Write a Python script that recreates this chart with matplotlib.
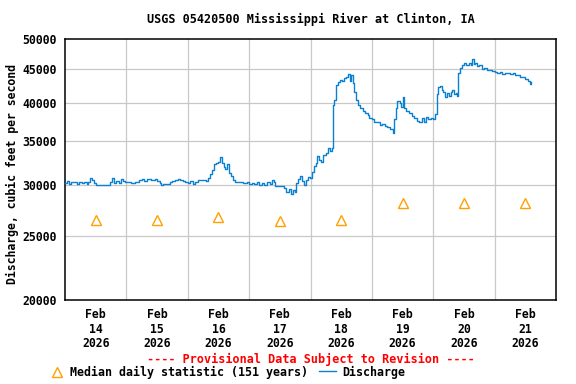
import matplotlib
matplotlib.use("Agg")
import matplotlib.pyplot as plt
from matplotlib.lines import Line2D
from matplotlib.ticker import FixedLocator, FixedFormatter, NullLocator

# ---- data ----
# hours since Feb 14 2026 00:00
hours = [0.0, 0.8, 1.5, 2.3, 3.5, 4.5, 5.5, 6.5, 7.5, 8.5, 9.0, 9.8, 10.5, 11.3, 12.0, 13.0, 15.0, 17.0,
         17.5, 18.5, 19.2, 20.0, 21.0, 21.9, 22.7, 23.5,
         24.5, 26.0, 27.5, 29.0, 30.0, 31.0, 32.0, 33.5, 35.0, 36.0, 37.0, 37.5, 38.5, 40.0, 41.0, 42.0,
         43.0, 44.0, 45.0, 46.0, 47.0,
         48.0, 49.0, 50.0, 51.0, 52.0, 53.5, 55.0, 56.0, 56.8, 57.5, 58.2, 59.0, 60.0, 60.6, 61.2, 62.0,
         62.7, 63.3, 64.3, 65.0, 65.8, 66.5, 68.0, 69.5, 71.0,
         72.0, 73.0, 74.0, 75.0, 76.0, 77.0, 78.0, 79.0, 80.0, 81.0, 81.8, 82.3, 84.0, 85.5, 86.5, 87.5,
         88.3, 89.0, 90.0, 90.5, 91.3, 92.0, 92.7, 93.5, 94.3, 95.0, 95.7,
         96.5, 97.2, 98.0, 98.7, 99.5, 100.3, 101.0, 102.0, 103.0, 103.7, 104.4, 104.8, 105.3, 106.0,
         106.7, 107.5, 108.3, 109.0, 110.0, 110.8, 111.5, 112.0, 112.5, 113.2, 113.8, 114.5, 115.3,
         116.5, 117.5, 118.3, 119.0,
         120.0, 121.0, 122.0, 123.0, 124.0, 125.0, 126.0, 127.0, 127.8, 128.3, 128.7, 129.3, 130.0,
         131.0, 131.5, 132.2, 132.7, 133.5, 134.5, 135.5, 136.5, 137.5, 138.5, 139.5, 140.3, 141.0,
         142.0, 143.0,
         144.0, 144.7, 145.3, 145.8, 146.5, 147.3, 148.0, 148.7, 149.3, 150.0, 150.8, 151.5, 152.2,
         153.0, 153.3, 153.8, 154.5, 155.3, 156.2, 157.0, 157.8, 158.6, 159.2, 159.8, 160.5, 161.3,
         162.0, 163.0, 164.0, 165.0, 166.0, 167.0,
         168.0, 169.0, 170.0, 171.0, 172.0, 173.0, 174.0, 175.0, 176.0, 177.0, 178.0, 179.0, 180.0,
         181.0, 181.7, 182.2]
discharge = [30150, 30350, 30100, 30300, 30250, 30100, 30300, 30150, 30250, 30050, 30300, 30700, 30450,
             30200, 30000, 30000, 29980, 30000,
             30250, 30700, 30200, 30350, 30200, 30600, 30350, 30250,
             30250, 30200, 30250, 30450, 30550, 30400, 30550, 30450, 30550, 30400, 30150, 30000, 30050,
             30050, 30250, 30350, 30500, 30600, 30500, 30350, 30250,
             30200, 30350, 30100, 30300, 30450, 30500, 30400, 30700, 31100, 31600, 32200, 32300, 32500,
             33000, 32400, 31900, 31700, 32200, 31200, 30900, 30500, 30250, 30300, 30150, 30250,
             30100, 30200, 30050, 30250, 29950, 30200, 30000, 30250, 30100, 30450, 30300, 29800, 29800,
             29600, 29200, 29500, 29050, 29400, 29200, 30150, 30600, 30900, 30400, 30000, 30500, 30800,
             30650,
             31400, 32000, 32400, 33100, 32700, 32500, 33300, 33500, 34100, 33800, 34100, 39600, 40300,
             42500, 43000, 43300, 43100, 43600, 43700, 44200, 43200, 44000, 42900, 41500, 40400, 39700,
             39200, 38800, 38600, 38300, 37900,
             37700, 37300, 37400, 37000, 37100, 36800, 36700, 36500, 36400, 36000, 37800, 39200, 40200,
             40000, 39400, 40800, 39300, 38900, 38500, 38200, 37900, 37500, 37300, 37900, 37300, 38000,
             37700, 37900,
             37700, 38400, 41200, 42300, 42400, 41800, 41500, 40800, 41300, 41000, 41500, 41800, 41200,
             41400, 41000, 44300, 45200, 45700, 45900, 45600, 46000, 45700, 46600, 45800, 45900, 45400,
             45600, 45000, 45100, 44800, 44900, 44700,
             44600, 44300, 44500, 44200, 44400, 44300, 44200, 44400, 44000, 44100, 43700, 43800, 43400,
             43200, 42700, 43000]

median_hours = [12, 36, 60, 84, 108, 132, 156, 180]
median_values = [26500, 26500, 26800, 26400, 26500, 28100, 28150, 28100]

tick_labels = ["Feb\n14\n2026", "Feb\n15\n2026", "Feb\n16\n2026", "Feb\n17\n2026",
               "Feb\n18\n2026", "Feb\n19\n2026", "Feb\n20\n2026", "Feb\n21\n2026"]
y_ticks = [20000, 25000, 30000, 35000, 40000, 45000, 50000]

# ---- style ----
FONT = "DejaVu Sans Mono"
FS = 8.3
BLUE = "#0a80d0"
ORANGE = "#ffa000"

fig = plt.figure(figsize=(5.76, 3.84), dpi=100)
ax = fig.add_axes([65 / 576, 1 - 300 / 384, (556 - 65) / 576, (300 - 39) / 384])

ax.set_yscale("log")
ax.set_ylim(20000, 50000)
ax.set_xlim(0, 192)

ax.plot(hours, discharge, color=BLUE, lw=1.0, drawstyle="steps-post", zorder=3)
ax.plot(median_hours, median_values, linestyle="none", marker="^", markersize=6.5,
        markerfacecolor="none", markeredgecolor=ORANGE, markeredgewidth=1.0, zorder=3)

# grid
for v in y_ticks[1:-1]:
    ax.axhline(v, color="#c8c8c8", lw=0.9, zorder=1)
for d in range(1, 8):
    ax.axvline(24 * d, color="#c8c8c8", lw=0.9, zorder=1)

ax.yaxis.set_major_locator(FixedLocator(y_ticks))
ax.yaxis.set_major_formatter(FixedFormatter([str(v) for v in y_ticks]))
ax.yaxis.set_minor_locator(NullLocator())
ax.set_xticks(median_hours)
ax.set_xticklabels(tick_labels)
ax.tick_params(axis="both", length=0)
ax.tick_params(axis="y", pad=6)
ax.tick_params(axis="x", pad=6)
for lab in ax.get_yticklabels():
    lab.set_fontfamily(FONT); lab.set_fontweight("bold"); lab.set_fontsize(FS)
for lab in ax.get_xticklabels():
    lab.set_fontfamily(FONT); lab.set_fontweight("bold"); lab.set_fontsize(FS)
    lab.set_linespacing(1.13)

for s in ax.spines.values():
    s.set_color("black")
    s.set_linewidth(1.1)

fig.text(0.5 * (65 + 556) / 576 + 0.0, 1 - 19 / 384, "USGS 05420500 Mississippi River at Clinton, IA",
         ha="center", va="center", fontfamily=FONT, fontweight="bold", fontsize=FS + 0.2)
fig.text(12 / 576, 1 - 174 / 384, "Discharge, cubic feet per second", rotation=90,
         ha="center", va="center", fontfamily=FONT, fontweight="bold", fontsize=FS)
fig.text(311 / 576, 1 - 359 / 384, "---- Provisional Data Subject to Revision ----",
         ha="center", va="center", fontfamily=FONT, fontweight="bold", fontsize=FS + 0.2, color="red")

# legend (manual)
ly = 1 - 372 / 384
fig.add_artist(Line2D([57 / 576], [ly], transform=fig.transFigure, linestyle="none", marker="^",
                      markersize=6.5, markerfacecolor="none", markeredgecolor=ORANGE, markeredgewidth=1.0))
fig.text(70 / 576, ly, "Median daily statistic (151 years)", ha="left", va="center",
         fontfamily=FONT, fontweight="bold", fontsize=FS + 0.1)
fig.add_artist(Line2D([319 / 576, 336 / 576], [ly + 1.5 / 384, ly + 1.5 / 384], transform=fig.transFigure,
                      color=BLUE, lw=1.0))
fig.text(342 / 576, ly, "Discharge", ha="left", va="center",
         fontfamily=FONT, fontweight="bold", fontsize=FS + 0.1)

fig.savefig("out.png", dpi=100)
